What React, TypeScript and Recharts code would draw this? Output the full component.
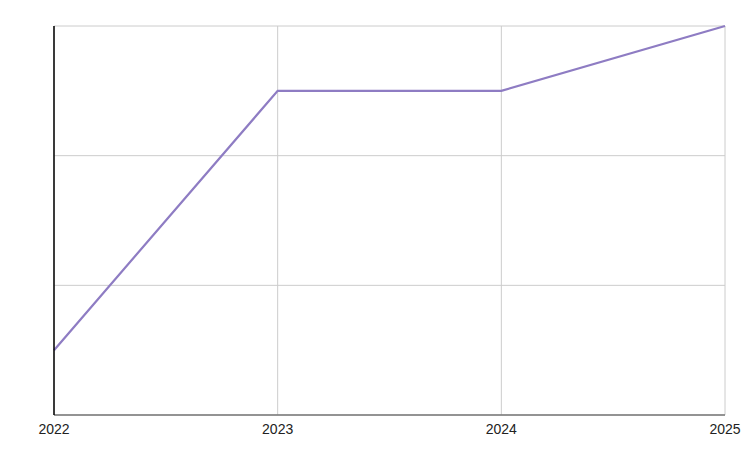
import * as React from "react";
import { LineChart, Line, XAxis, YAxis, CartesianGrid } from "recharts";

const years = ["2022", "2023", "2024", "2025"];
const values = [0.5, 2.5, 2.5, 3];
const yTicks = [0, 1, 2, 3];

const data = years.map((year, i) => ({ year, value: values[i] }));

// y axis carries no labels, only its line and grid
const NoTick = () => <g />;

export default function App() {
  return (
    <div style={{ position: "absolute", left: 0, top: 0, background: "#fff" }}>
      <LineChart
        width={747}
        height={456}
        data={data}
        margin={{ top: 26, right: 22, left: 53, bottom: 0 }}
      >
        <CartesianGrid stroke="#cccccc" strokeWidth={1} />
        <XAxis
          dataKey="year"
          height={41}
          tickLine={false}
          axisLine={{ stroke: "#777", strokeWidth: 1.5 }}
          tick={{ fontSize: 14, fill: "#222", fontFamily: "Liberation Sans, Arial, sans-serif" }}
          tickMargin={3}
          interval={0}
        />
        <YAxis
          width={1}
          domain={[0, 3]}
          ticks={yTicks}
          tick={NoTick}
          tickLine={false}
          axisLine={{ stroke: "#000", strokeWidth: 1.5 }}
        />
        <Line
          type="linear"
          dataKey="value"
          stroke="#8e7cc3"
          strokeWidth={2.2}
          dot={false}
          isAnimationActive={false}
        />
      </LineChart>
    </div>
  );
}
